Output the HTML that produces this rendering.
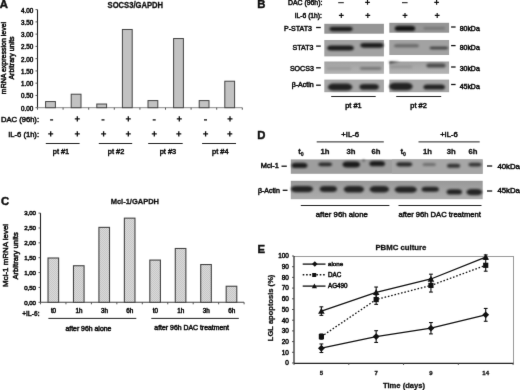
<!DOCTYPE html>
<html><head><meta charset="utf-8"><title>Figure</title>
<style>html,body{margin:0;padding:0;background:#fff;width:520px;height:390px;overflow:hidden;} svg text{font-family:"Liberation Sans", sans-serif;stroke:#111;stroke-width:0.5px;} svg text.b{stroke-width:0.3px;} svg text.s{stroke-width:0.5px;}</style>
</head><body>
<svg width="520" height="390" viewBox="0 0 520 390" style="display:block" font-family='"Liberation Sans", sans-serif' fill="#1a1a1a"><defs>
<filter id="blur1" x="-30%" y="-100%" width="160%" height="300%" color-interpolation-filters="sRGB"><feGaussianBlur stdDeviation="0.85"/></filter>
<pattern id="hatch" width="2" height="2" patternUnits="userSpaceOnUse"><rect width="2" height="2" fill="#dadada"/><rect width="1" height="1" fill="#c6c6c6"/><rect x="1" y="1" width="1" height="1" fill="#c6c6c6"/></pattern>
<linearGradient id="gD" x1="0" y1="0" x2="0" y2="1"><stop offset="0" stop-color="#989898"/><stop offset="1" stop-color="#adadad"/></linearGradient>
<linearGradient id="gS" x1="0" y1="0" x2="0" y2="1"><stop offset="0" stop-color="#a2a2a2"/><stop offset="1" stop-color="#b4b4b4"/></linearGradient>
<filter id="gblur" x="0" y="0" width="520" height="390" filterUnits="userSpaceOnUse" color-interpolation-filters="sRGB"><feConvolveMatrix order="3" kernelMatrix="0.0072 0.0847 0.0072 0.0847 1.0000 0.0847 0.0072 0.0847 0.0072" edgeMode="duplicate"/></filter></defs><g filter="url(#gblur)"><rect width="520" height="390" fill="#fff"/><text class="b" x="-0.30" y="8.10" font-size="11.3" font-weight="bold" text-anchor="start" fill="#111" style="stroke-width:0.45px">A</text>
<text class="b" x="135.35" y="8.20" font-size="8.2" font-weight="bold" text-anchor="middle" fill="#111"  textLength="55.6" lengthAdjust="spacingAndGlyphs">SOCS3/GAPDH</text>
<line x1="37.50" y1="9.60" x2="37.50" y2="107.70" stroke="#222" stroke-width="1.1" />
<line x1="35.50" y1="107.70" x2="37.50" y2="107.70" stroke="#444" stroke-width="0.9" />
<text class="s" x="33.30" y="110.70" font-size="6.3" font-weight="normal" text-anchor="end" fill="#111" >0.00</text>
<line x1="35.50" y1="95.44" x2="37.50" y2="95.44" stroke="#444" stroke-width="0.9" />
<text class="s" x="33.30" y="98.44" font-size="6.3" font-weight="normal" text-anchor="end" fill="#111" >0.50</text>
<line x1="35.50" y1="83.17" x2="37.50" y2="83.17" stroke="#444" stroke-width="0.9" />
<text class="s" x="33.30" y="86.17" font-size="6.3" font-weight="normal" text-anchor="end" fill="#111" >1.00</text>
<line x1="35.50" y1="70.91" x2="37.50" y2="70.91" stroke="#444" stroke-width="0.9" />
<text class="s" x="33.30" y="73.91" font-size="6.3" font-weight="normal" text-anchor="end" fill="#111" >1.50</text>
<line x1="35.50" y1="58.65" x2="37.50" y2="58.65" stroke="#444" stroke-width="0.9" />
<text class="s" x="33.30" y="61.65" font-size="6.3" font-weight="normal" text-anchor="end" fill="#111" >2.00</text>
<line x1="35.50" y1="46.39" x2="37.50" y2="46.39" stroke="#444" stroke-width="0.9" />
<text class="s" x="33.30" y="49.39" font-size="6.3" font-weight="normal" text-anchor="end" fill="#111" >2.50</text>
<line x1="35.50" y1="34.12" x2="37.50" y2="34.12" stroke="#444" stroke-width="0.9" />
<text class="s" x="33.30" y="37.12" font-size="6.3" font-weight="normal" text-anchor="end" fill="#111" >3.00</text>
<line x1="35.50" y1="21.86" x2="37.50" y2="21.86" stroke="#444" stroke-width="0.9" />
<text class="s" x="33.30" y="24.86" font-size="6.3" font-weight="normal" text-anchor="end" fill="#111" >3.50</text>
<line x1="35.50" y1="9.60" x2="37.50" y2="9.60" stroke="#444" stroke-width="0.9" />
<text class="s" x="33.30" y="12.60" font-size="6.3" font-weight="normal" text-anchor="end" fill="#111" >4.00</text>
<line x1="37.50" y1="107.70" x2="242.30" y2="107.70" stroke="#8a8a8a" stroke-width="1" />
<line x1="37.50" y1="107.70" x2="37.50" y2="109.70" stroke="#444" stroke-width="0.9" />
<line x1="63.10" y1="107.70" x2="63.10" y2="109.70" stroke="#444" stroke-width="0.9" />
<line x1="88.70" y1="107.70" x2="88.70" y2="109.70" stroke="#444" stroke-width="0.9" />
<line x1="114.30" y1="107.70" x2="114.30" y2="109.70" stroke="#444" stroke-width="0.9" />
<line x1="139.90" y1="107.70" x2="139.90" y2="109.70" stroke="#444" stroke-width="0.9" />
<line x1="165.50" y1="107.70" x2="165.50" y2="109.70" stroke="#444" stroke-width="0.9" />
<line x1="191.10" y1="107.70" x2="191.10" y2="109.70" stroke="#444" stroke-width="0.9" />
<line x1="216.70" y1="107.70" x2="216.70" y2="109.70" stroke="#444" stroke-width="0.9" />
<line x1="242.30" y1="107.70" x2="242.30" y2="109.70" stroke="#444" stroke-width="0.9" />
<rect x="45.60" y="101.57" width="9.80" height="6.13" fill="#c2c2c2" stroke="#444" stroke-width="1" />
<rect x="71.20" y="94.21" width="9.80" height="13.49" fill="#c2c2c2" stroke="#444" stroke-width="1" />
<rect x="96.80" y="104.02" width="9.80" height="3.68" fill="#c2c2c2" stroke="#444" stroke-width="1" />
<rect x="122.40" y="29.47" width="9.80" height="78.23" fill="#c2c2c2" stroke="#444" stroke-width="1" />
<rect x="148.00" y="100.59" width="9.80" height="7.11" fill="#c2c2c2" stroke="#444" stroke-width="1" />
<rect x="173.60" y="38.54" width="9.80" height="69.16" fill="#c2c2c2" stroke="#444" stroke-width="1" />
<rect x="199.20" y="100.59" width="9.80" height="7.11" fill="#c2c2c2" stroke="#444" stroke-width="1" />
<rect x="224.80" y="81.21" width="9.80" height="26.49" fill="#c2c2c2" stroke="#444" stroke-width="1" />
<text transform="translate(6.40,58.00) rotate(-90)" x="0" y="0" font-size="7.0" font-weight="normal" text-anchor="middle" fill="#111">mRNA expression level</text>
<text transform="translate(13.60,58.00) rotate(-90)" x="0" y="0" font-size="7.0" font-weight="normal" text-anchor="middle" fill="#111">Arbitrary units</text>
<text x="39.00" y="122.30" font-size="7.6" font-weight="normal" text-anchor="end" fill="#111" >DAC (96h):</text>
<text x="39.00" y="136.70" font-size="7.6" font-weight="normal" text-anchor="end" fill="#111" >IL-6 (1h):</text>
<rect x="50.10" y="119.25" width="3.00" height="1.30" fill="#111"/>
<path d="M74.80 118.25h5.00v1.30h-5.00zM76.65 116.30h1.30v5.20h-1.30z" fill="#111"/>
<rect x="101.50" y="119.25" width="3.00" height="1.30" fill="#111"/>
<path d="M125.80 118.25h5.00v1.30h-5.00zM127.65 116.30h1.30v5.20h-1.30z" fill="#111"/>
<rect x="152.70" y="119.25" width="3.00" height="1.30" fill="#111"/>
<path d="M176.80 118.25h5.00v1.30h-5.00zM178.65 116.30h1.30v5.20h-1.30z" fill="#111"/>
<rect x="204.00" y="119.25" width="3.00" height="1.30" fill="#111"/>
<path d="M227.50 118.25h5.00v1.30h-5.00zM229.35 116.30h1.30v5.20h-1.30z" fill="#111"/>
<path d="M48.20 133.25h5.00v1.30h-5.00zM50.05 131.30h1.30v5.20h-1.30z" fill="#111"/>
<path d="M74.80 133.25h5.00v1.30h-5.00zM76.65 131.30h1.30v5.20h-1.30z" fill="#111"/>
<path d="M101.10 133.25h5.00v1.30h-5.00zM102.95 131.30h1.30v5.20h-1.30z" fill="#111"/>
<path d="M125.80 133.25h5.00v1.30h-5.00zM127.65 131.30h1.30v5.20h-1.30z" fill="#111"/>
<path d="M151.80 133.25h5.00v1.30h-5.00zM153.65 131.30h1.30v5.20h-1.30z" fill="#111"/>
<path d="M176.30 133.25h5.00v1.30h-5.00zM178.15 131.30h1.30v5.20h-1.30z" fill="#111"/>
<path d="M203.10 133.25h5.00v1.30h-5.00zM204.95 131.30h1.30v5.20h-1.30z" fill="#111"/>
<path d="M227.30 133.25h5.00v1.30h-5.00zM229.15 131.30h1.30v5.20h-1.30z" fill="#111"/>
<line x1="45.80" y1="143.50" x2="79.60" y2="143.50" stroke="#222" stroke-width="1" />
<text x="61.00" y="153.60" font-size="7.4" font-weight="normal" text-anchor="middle" fill="#111" >pt #1</text>
<line x1="98.80" y1="143.50" x2="132.20" y2="143.50" stroke="#222" stroke-width="1" />
<text x="116.10" y="153.60" font-size="7.4" font-weight="normal" text-anchor="middle" fill="#111" >pt #2</text>
<line x1="148.20" y1="143.50" x2="182.70" y2="143.50" stroke="#222" stroke-width="1" />
<text x="167.90" y="153.60" font-size="7.4" font-weight="normal" text-anchor="middle" fill="#111" >pt #3</text>
<line x1="202.10" y1="143.50" x2="236.00" y2="143.50" stroke="#222" stroke-width="1" />
<text x="220.30" y="153.60" font-size="7.4" font-weight="normal" text-anchor="middle" fill="#111" >pt #4</text>
<text class="b" x="257.30" y="8.00" font-size="11.3" font-weight="bold" text-anchor="start" fill="#111" style="stroke-width:0.45px">B</text>
<text x="322.40" y="5.30" font-size="6.9" font-weight="normal" text-anchor="end" fill="#111" >DAC (96h):</text>
<text x="321.90" y="17.50" font-size="6.7" font-weight="normal" text-anchor="end" fill="#111" >IL-6 (1h):</text>
<rect x="338.20" y="2.20" width="5.60" height="1.00" fill="#111"/>
<rect x="402.00" y="2.20" width="5.60" height="1.00" fill="#111"/>
<path d="M365.15 1.82h4.70v1.15h-4.70zM366.93 0.00h1.15v4.80h-1.15z" fill="#111"/>
<path d="M434.25 1.82h4.70v1.15h-4.70zM436.03 0.00h1.15v4.80h-1.15z" fill="#111"/>
<path d="M338.90 14.83h4.80v1.15h-4.80zM340.73 12.90h1.15v5.00h-1.15z" fill="#111"/>
<path d="M365.40 14.83h4.80v1.15h-4.80zM367.23 12.90h1.15v5.00h-1.15z" fill="#111"/>
<path d="M402.60 14.83h4.80v1.15h-4.80zM404.43 12.90h1.15v5.00h-1.15z" fill="#111"/>
<path d="M434.80 14.83h4.80v1.15h-4.80zM436.62 12.90h1.15v5.00h-1.15z" fill="#111"/>
<rect x="324.30" y="23.80" width="59.60" height="9.90" fill="#959595" stroke="none" stroke-width="0" />
<rect x="389.30" y="22.80" width="59.80" height="9.90" fill="#959595" stroke="none" stroke-width="0" />
<text x="312.00" y="30.90" font-size="7.05" font-weight="normal" text-anchor="end" fill="#111" >P-STAT3</text>
<line x1="316.10" y1="27.50" x2="320.80" y2="27.50" stroke="#111" stroke-width="1.3" />
<line x1="451.10" y1="27.00" x2="455.60" y2="27.00" stroke="#111" stroke-width="1.3" />
<text x="459.70" y="31.00" font-size="6.95" font-weight="normal" text-anchor="start" fill="#111" >80kDa</text>
<rect x="324.30" y="40.00" width="59.60" height="16.40" fill="#a2a2a2" stroke="none" stroke-width="0" />
<rect x="389.30" y="40.00" width="59.80" height="15.00" fill="#a2a2a2" stroke="none" stroke-width="0" />
<text x="313.50" y="49.50" font-size="7.05" font-weight="normal" text-anchor="end" fill="#111" >STAT3</text>
<line x1="316.10" y1="46.10" x2="320.80" y2="46.10" stroke="#111" stroke-width="1.3" />
<line x1="451.10" y1="45.60" x2="455.60" y2="45.60" stroke="#111" stroke-width="1.3" />
<text x="459.70" y="49.60" font-size="6.95" font-weight="normal" text-anchor="start" fill="#111" >80kDa</text>
<rect x="324.30" y="61.50" width="59.60" height="12.30" fill="url(#gS)" stroke="none" stroke-width="0" />
<rect x="389.30" y="61.50" width="59.80" height="12.30" fill="url(#gS)" stroke="none" stroke-width="0" />
<text x="313.80" y="70.70" font-size="7.05" font-weight="normal" text-anchor="end" fill="#111" >SOCS3</text>
<line x1="316.10" y1="67.80" x2="320.80" y2="67.80" stroke="#111" stroke-width="1.3" />
<line x1="451.10" y1="67.00" x2="455.60" y2="67.00" stroke="#111" stroke-width="1.3" />
<text x="459.70" y="71.00" font-size="6.95" font-weight="normal" text-anchor="start" fill="#111" >30kDa</text>
<rect x="324.30" y="79.60" width="59.60" height="12.60" fill="#a6a6a6" stroke="none" stroke-width="0" />
<rect x="389.30" y="79.60" width="59.80" height="12.60" fill="#a6a6a6" stroke="none" stroke-width="0" />
<text x="313.80" y="87.00" font-size="7.05" font-weight="normal" text-anchor="end" fill="#111" >β-Actin</text>
<line x1="316.10" y1="85.20" x2="320.80" y2="85.20" stroke="#111" stroke-width="1.3" />
<line x1="451.10" y1="84.50" x2="455.60" y2="84.50" stroke="#111" stroke-width="1.3" />
<text x="459.70" y="88.50" font-size="6.95" font-weight="normal" text-anchor="start" fill="#111" >45kDa</text>
<g filter="url(#blur1)">
<rect x="329.50" y="26.85" width="23.10" height="4.30" rx="3.44" ry="2.15" fill="#1c1c1c"/>
<rect x="394.80" y="25.80" width="20.40" height="5.20" rx="4.16" ry="2.60" fill="#151515"/>
<rect x="423.50" y="27.00" width="21.50" height="2.40" rx="1.92" ry="1.20" fill="#747474"/>
<rect x="327.20" y="45.40" width="26.60" height="5.00" rx="4.00" ry="2.50" fill="#1c1c1c"/>
<rect x="360.40" y="42.90" width="23.20" height="4.80" rx="3.84" ry="2.40" fill="#1c1c1c"/>
<rect x="394.00" y="44.20" width="25.00" height="3.00" rx="2.40" ry="1.50" fill="#666666"/>
<rect x="429.60" y="46.70" width="18.40" height="2.60" rx="2.08" ry="1.30" fill="#3a3a3a"/>
<rect x="326.50" y="67.30" width="24.90" height="2.40" rx="1.92" ry="1.20" fill="#989898"/>
<rect x="359.90" y="67.10" width="21.50" height="2.60" rx="2.08" ry="1.30" fill="#747474"/>
<rect x="390.00" y="65.30" width="22.60" height="3.00" rx="2.40" ry="1.50" fill="#969696"/>
<rect x="426.40" y="63.50" width="19.20" height="4.00" rx="3.20" ry="2.00" fill="#4a4a4a"/>
<polygon points="389.3,61.4 400,61.4 389.3,63.6" fill="#2a2a2a"/>
<rect x="327.80" y="83.60" width="24.60" height="7.00" rx="5.60" ry="3.50" fill="#222222"/>
<rect x="359.50" y="84.10" width="19.30" height="5.60" rx="4.48" ry="2.80" fill="#222222"/>
<rect x="389.20" y="82.70" width="23.40" height="7.60" rx="6.08" ry="3.80" fill="#222222"/>
<rect x="423.40" y="84.40" width="21.60" height="5.20" rx="4.16" ry="2.60" fill="#222222"/>
</g>
<line x1="331.20" y1="96.50" x2="375.70" y2="96.50" stroke="#222" stroke-width="1" />
<line x1="396.20" y1="96.50" x2="441.20" y2="96.50" stroke="#222" stroke-width="1" />
<text x="353.40" y="107.80" font-size="7.4" font-weight="normal" text-anchor="middle" fill="#111" >pt #1</text>
<text x="418.60" y="107.80" font-size="7.4" font-weight="normal" text-anchor="middle" fill="#111" >pt #2</text>
<text class="b" x="0.90" y="205.40" font-size="11.3" font-weight="bold" text-anchor="start" fill="#111" style="stroke-width:0.45px">C</text>
<text class="b" x="134.85" y="204.00" font-size="8.1" font-weight="bold" text-anchor="middle" fill="#111"  textLength="48.4" lengthAdjust="spacingAndGlyphs">Mcl-1/GAPDH</text>
<line x1="40.50" y1="213.10" x2="40.50" y2="302.30" stroke="#222" stroke-width="1.1" />
<line x1="38.50" y1="302.30" x2="40.50" y2="302.30" stroke="#444" stroke-width="0.9" />
<text class="s" x="36.00" y="304.50" font-size="6.1" font-weight="normal" text-anchor="end" fill="#111" >0,00</text>
<line x1="38.50" y1="287.43" x2="40.50" y2="287.43" stroke="#444" stroke-width="0.9" />
<text class="s" x="36.00" y="289.63" font-size="6.1" font-weight="normal" text-anchor="end" fill="#111" >0,50</text>
<line x1="38.50" y1="272.57" x2="40.50" y2="272.57" stroke="#444" stroke-width="0.9" />
<text class="s" x="36.00" y="274.77" font-size="6.1" font-weight="normal" text-anchor="end" fill="#111" >1,00</text>
<line x1="38.50" y1="257.70" x2="40.50" y2="257.70" stroke="#444" stroke-width="0.9" />
<text class="s" x="36.00" y="259.90" font-size="6.1" font-weight="normal" text-anchor="end" fill="#111" >1,50</text>
<line x1="38.50" y1="242.83" x2="40.50" y2="242.83" stroke="#444" stroke-width="0.9" />
<text class="s" x="36.00" y="245.03" font-size="6.1" font-weight="normal" text-anchor="end" fill="#111" >2,00</text>
<line x1="38.50" y1="227.97" x2="40.50" y2="227.97" stroke="#444" stroke-width="0.9" />
<text class="s" x="36.00" y="230.17" font-size="6.1" font-weight="normal" text-anchor="end" fill="#111" >2,50</text>
<line x1="38.50" y1="213.10" x2="40.50" y2="213.10" stroke="#444" stroke-width="0.9" />
<text class="s" x="36.00" y="215.30" font-size="6.1" font-weight="normal" text-anchor="end" fill="#111" >3,00</text>
<line x1="40.50" y1="302.30" x2="244.10" y2="302.30" stroke="#444" stroke-width="1.1" />
<line x1="40.50" y1="302.30" x2="40.50" y2="304.30" stroke="#444" stroke-width="0.9" />
<line x1="65.95" y1="302.30" x2="65.95" y2="304.30" stroke="#444" stroke-width="0.9" />
<line x1="91.40" y1="302.30" x2="91.40" y2="304.30" stroke="#444" stroke-width="0.9" />
<line x1="116.85" y1="302.30" x2="116.85" y2="304.30" stroke="#444" stroke-width="0.9" />
<line x1="142.30" y1="302.30" x2="142.30" y2="304.30" stroke="#444" stroke-width="0.9" />
<line x1="167.75" y1="302.30" x2="167.75" y2="304.30" stroke="#444" stroke-width="0.9" />
<line x1="193.20" y1="302.30" x2="193.20" y2="304.30" stroke="#444" stroke-width="0.9" />
<line x1="218.65" y1="302.30" x2="218.65" y2="304.30" stroke="#444" stroke-width="0.9" />
<line x1="244.10" y1="302.30" x2="244.10" y2="304.30" stroke="#444" stroke-width="0.9" />
<rect x="48.02" y="258.00" width="10.60" height="44.30" fill="url(#hatch)" stroke="#444" stroke-width="1.1" />
<rect x="73.47" y="265.73" width="10.60" height="36.57" fill="url(#hatch)" stroke="#444" stroke-width="1.1" />
<rect x="98.92" y="227.37" width="10.60" height="74.93" fill="url(#hatch)" stroke="#444" stroke-width="1.1" />
<rect x="124.37" y="218.15" width="10.60" height="84.15" fill="url(#hatch)" stroke="#444" stroke-width="1.1" />
<rect x="149.82" y="260.08" width="10.60" height="42.22" fill="url(#hatch)" stroke="#444" stroke-width="1.1" />
<rect x="175.28" y="248.48" width="10.60" height="53.82" fill="url(#hatch)" stroke="#444" stroke-width="1.1" />
<rect x="200.72" y="264.54" width="10.60" height="37.76" fill="url(#hatch)" stroke="#444" stroke-width="1.1" />
<rect x="226.18" y="286.24" width="10.60" height="16.06" fill="url(#hatch)" stroke="#444" stroke-width="1.1" />
<text transform="translate(8.00,255.40) rotate(-90)" x="0" y="0" font-size="7.95" font-weight="normal" text-anchor="middle" fill="#111">Mcl-1 mRNA level</text>
<text transform="translate(18.00,255.90) rotate(-90)" x="0" y="0" font-size="7.7" font-weight="normal" text-anchor="middle" fill="#111">Arbitrary units</text>
<text class="b" x="39.80" y="315.50" font-size="6.5" font-weight="bold" text-anchor="end" fill="#111" >+IL-6:</text>
<text class="s" x="53.52" y="313.40" font-size="6.3" font-weight="normal" text-anchor="middle" fill="#111" >t0</text>
<text class="s" x="78.97" y="313.40" font-size="6.3" font-weight="normal" text-anchor="middle" fill="#111" >1h</text>
<text class="s" x="104.42" y="313.40" font-size="6.3" font-weight="normal" text-anchor="middle" fill="#111" >3h</text>
<text class="s" x="129.88" y="313.40" font-size="6.3" font-weight="normal" text-anchor="middle" fill="#111" >6h</text>
<text class="s" x="155.32" y="313.40" font-size="6.3" font-weight="normal" text-anchor="middle" fill="#111" >t0</text>
<text class="s" x="180.78" y="313.40" font-size="6.3" font-weight="normal" text-anchor="middle" fill="#111" >1h</text>
<text class="s" x="206.22" y="313.40" font-size="6.3" font-weight="normal" text-anchor="middle" fill="#111" >3h</text>
<text class="s" x="231.68" y="313.40" font-size="6.3" font-weight="normal" text-anchor="middle" fill="#111" >6h</text>
<line x1="48.40" y1="318.40" x2="136.30" y2="318.40" stroke="#222" stroke-width="1" />
<line x1="151.30" y1="318.40" x2="238.80" y2="318.40" stroke="#222" stroke-width="1" />
<text x="88.40" y="330.80" font-size="6.9" font-weight="normal" text-anchor="middle" fill="#111" >after 96h alone</text>
<text x="191.70" y="330.40" font-size="6.9" font-weight="normal" text-anchor="middle" fill="#111" >after 96h DAC treatment</text>
<text class="b" x="257.20" y="139.20" font-size="11.3" font-weight="bold" text-anchor="start" fill="#111" style="stroke-width:0.45px">D</text>
<text x="350.20" y="137.00" font-size="7.7" font-weight="normal" text-anchor="middle" fill="#111" >+IL-6</text>
<text x="449.00" y="137.00" font-size="7.7" font-weight="normal" text-anchor="middle" fill="#111" >+IL-6</text>
<line x1="316.70" y1="141.90" x2="383.80" y2="141.90" stroke="#222" stroke-width="1" />
<line x1="418.50" y1="141.90" x2="479.70" y2="141.90" stroke="#222" stroke-width="1" />
<text class="b" x="298.30" y="153.60" font-size="7.7" font-weight="bold" text-anchor="start" fill="#111" >t</text>
<text class="b" x="300.80" y="155.80" font-size="5.2" font-weight="bold" text-anchor="start" fill="#111" >0</text>
<text class="b" x="400.50" y="153.60" font-size="7.7" font-weight="bold" text-anchor="start" fill="#111" >t</text>
<text class="b" x="403.00" y="155.80" font-size="5.2" font-weight="bold" text-anchor="start" fill="#111" >0</text>
<text class="b" x="324.90" y="154.00" font-size="7.7" font-weight="bold" text-anchor="middle" fill="#111" >1h</text>
<text class="b" x="350.90" y="154.00" font-size="7.7" font-weight="bold" text-anchor="middle" fill="#111" >3h</text>
<text class="b" x="376.00" y="154.00" font-size="7.7" font-weight="bold" text-anchor="middle" fill="#111" >6h</text>
<text class="b" x="427.40" y="154.00" font-size="7.7" font-weight="bold" text-anchor="middle" fill="#111" >1h</text>
<text class="b" x="451.30" y="154.00" font-size="7.7" font-weight="bold" text-anchor="middle" fill="#111" >3h</text>
<text class="b" x="472.90" y="154.00" font-size="7.7" font-weight="bold" text-anchor="middle" fill="#111" >6h</text>
<rect x="290.80" y="159.40" width="191.80" height="14.40" fill="#9e9e9e" stroke="none" stroke-width="0" />
<rect x="392.00" y="159.40" width="90.60" height="14.40" fill="#a6a6a6" stroke="none" stroke-width="0" />
<rect x="290.80" y="180.80" width="191.90" height="18.40" fill="url(#gD)" stroke="none" stroke-width="0" />
<g filter="url(#blur1)">
<rect x="291.60" y="162.70" width="15.80" height="5.40" rx="4.32" ry="2.70" fill="#1e1e1e"/>
<rect x="318.40" y="162.40" width="13.60" height="3.80" rx="3.04" ry="1.90" fill="#2a2a2a"/>
<rect x="342.60" y="161.60" width="17.40" height="6.00" rx="4.80" ry="3.00" fill="#1a1a1a"/>
<rect x="369.40" y="161.10" width="15.60" height="5.20" rx="4.16" ry="2.60" fill="#1c1c1c"/>
<rect x="396.40" y="162.20" width="15.80" height="4.20" rx="3.36" ry="2.10" fill="#2a2a2a"/>
<rect x="422.50" y="163.00" width="13.50" height="3.00" rx="2.40" ry="1.50" fill="#6e6e6e"/>
<rect x="447.00" y="163.70" width="13.20" height="4.00" rx="3.20" ry="2.00" fill="#333333"/>
<rect x="468.50" y="162.70" width="12.90" height="3.80" rx="3.04" ry="1.90" fill="#333333"/>
<ellipse cx="363.60" cy="160.40" rx="0.90" ry="0.90" fill="#222" />
<rect x="290.90" y="185.90" width="22.10" height="6.40" rx="5.12" ry="3.20" fill="#242424"/>
<rect x="319.70" y="185.90" width="17.30" height="6.00" rx="4.80" ry="3.00" fill="#242424"/>
<rect x="343.80" y="186.00" width="20.20" height="6.60" rx="5.28" ry="3.30" fill="#242424"/>
<rect x="369.70" y="186.10" width="19.30" height="6.40" rx="5.12" ry="3.20" fill="#242424"/>
<rect x="394.70" y="186.50" width="22.10" height="6.20" rx="4.96" ry="3.10" fill="#242424"/>
<rect x="421.60" y="186.80" width="17.30" height="5.00" rx="4.00" ry="2.50" fill="#242424"/>
<rect x="446.60" y="189.20" width="15.40" height="5.40" rx="4.32" ry="2.70" fill="#242424"/>
<rect x="466.40" y="189.00" width="15.80" height="6.20" rx="4.96" ry="3.10" fill="#242424"/>
</g>
<text x="278.80" y="168.40" font-size="7.4" font-weight="normal" text-anchor="end" fill="#111" >Mcl-1</text>
<line x1="281.50" y1="166.20" x2="286.80" y2="166.20" stroke="#111" stroke-width="1.3" />
<text x="279.80" y="192.90" font-size="7.0" font-weight="normal" text-anchor="end" fill="#111" >β-Actin</text>
<line x1="282.70" y1="190.30" x2="287.50" y2="190.30" stroke="#111" stroke-width="1.3" />
<line x1="487.00" y1="166.00" x2="492.20" y2="166.00" stroke="#111" stroke-width="1.3" />
<text x="497.40" y="168.80" font-size="7.8" font-weight="normal" text-anchor="start" fill="#111" >40kDa</text>
<line x1="487.00" y1="191.00" x2="492.20" y2="191.00" stroke="#111" stroke-width="1.3" />
<text x="497.40" y="193.40" font-size="7.8" font-weight="normal" text-anchor="start" fill="#111" >45kDa</text>
<line x1="300.80" y1="205.50" x2="389.40" y2="205.50" stroke="#222" stroke-width="1" />
<line x1="398.50" y1="205.50" x2="481.50" y2="205.50" stroke="#222" stroke-width="1" />
<text x="341.80" y="217.00" font-size="7.8" font-weight="normal" text-anchor="middle" fill="#111" >after 96h alone</text>
<text x="439.70" y="217.40" font-size="7.6" font-weight="normal" text-anchor="middle" fill="#111" >after 96h DAC treatment</text>
<text class="b" x="257.40" y="252.80" font-size="11.3" font-weight="bold" text-anchor="start" fill="#111" style="stroke-width:0.45px">E</text>
<text class="b" x="400.90" y="250.40" font-size="8.0" font-weight="bold" text-anchor="middle" fill="#111"  textLength="50.9" lengthAdjust="spacingAndGlyphs">PBMC culture</text>
<line x1="294.00" y1="256.50" x2="513.50" y2="256.50" stroke="#999" stroke-width="1" />
<line x1="513.50" y1="256.00" x2="513.50" y2="363.00" stroke="#999" stroke-width="1" />
<line x1="294.00" y1="256.00" x2="294.00" y2="363.00" stroke="#222" stroke-width="1.2" />
<line x1="294.00" y1="363.30" x2="513.50" y2="363.30" stroke="#222" stroke-width="1.2" />
<line x1="292.00" y1="363.00" x2="294.00" y2="363.00" stroke="#444" stroke-width="0.9" />
<text class="s" x="288.80" y="365.30" font-size="6.4" font-weight="normal" text-anchor="end" fill="#111" >0</text>
<line x1="292.00" y1="352.30" x2="294.00" y2="352.30" stroke="#444" stroke-width="0.9" />
<text class="s" x="288.80" y="354.60" font-size="6.4" font-weight="normal" text-anchor="end" fill="#111" >10</text>
<line x1="292.00" y1="341.60" x2="294.00" y2="341.60" stroke="#444" stroke-width="0.9" />
<text class="s" x="288.80" y="343.90" font-size="6.4" font-weight="normal" text-anchor="end" fill="#111" >20</text>
<line x1="292.00" y1="330.90" x2="294.00" y2="330.90" stroke="#444" stroke-width="0.9" />
<text class="s" x="288.80" y="333.20" font-size="6.4" font-weight="normal" text-anchor="end" fill="#111" >30</text>
<line x1="292.00" y1="320.20" x2="294.00" y2="320.20" stroke="#444" stroke-width="0.9" />
<text class="s" x="288.80" y="322.50" font-size="6.4" font-weight="normal" text-anchor="end" fill="#111" >40</text>
<line x1="292.00" y1="309.50" x2="294.00" y2="309.50" stroke="#444" stroke-width="0.9" />
<text class="s" x="288.80" y="311.80" font-size="6.4" font-weight="normal" text-anchor="end" fill="#111" >50</text>
<line x1="292.00" y1="298.80" x2="294.00" y2="298.80" stroke="#444" stroke-width="0.9" />
<text class="s" x="288.80" y="301.10" font-size="6.4" font-weight="normal" text-anchor="end" fill="#111" >60</text>
<line x1="292.00" y1="288.10" x2="294.00" y2="288.10" stroke="#444" stroke-width="0.9" />
<text class="s" x="288.80" y="290.40" font-size="6.4" font-weight="normal" text-anchor="end" fill="#111" >70</text>
<line x1="292.00" y1="277.40" x2="294.00" y2="277.40" stroke="#444" stroke-width="0.9" />
<text class="s" x="288.80" y="279.70" font-size="6.4" font-weight="normal" text-anchor="end" fill="#111" >80</text>
<line x1="292.00" y1="266.70" x2="294.00" y2="266.70" stroke="#444" stroke-width="0.9" />
<text class="s" x="288.80" y="269.00" font-size="6.4" font-weight="normal" text-anchor="end" fill="#111" >90</text>
<line x1="292.00" y1="256.00" x2="294.00" y2="256.00" stroke="#444" stroke-width="0.9" />
<text class="s" x="288.80" y="258.30" font-size="6.4" font-weight="normal" text-anchor="end" fill="#111" >100</text>
<line x1="294.00" y1="363.00" x2="294.00" y2="365.00" stroke="#444" stroke-width="0.9" />
<line x1="348.77" y1="363.00" x2="348.77" y2="365.00" stroke="#444" stroke-width="0.9" />
<line x1="403.55" y1="363.00" x2="403.55" y2="365.00" stroke="#444" stroke-width="0.9" />
<line x1="458.33" y1="363.00" x2="458.33" y2="365.00" stroke="#444" stroke-width="0.9" />
<line x1="513.10" y1="363.00" x2="513.10" y2="365.00" stroke="#444" stroke-width="0.9" />
<text class="b" x="321.39" y="374.80" font-size="6.0" font-weight="bold" text-anchor="middle" fill="#111" >5</text>
<text class="b" x="376.16" y="374.80" font-size="6.0" font-weight="bold" text-anchor="middle" fill="#111" >7</text>
<text class="b" x="430.94" y="374.80" font-size="6.0" font-weight="bold" text-anchor="middle" fill="#111" >9</text>
<text class="b" x="485.71" y="374.80" font-size="6.0" font-weight="bold" text-anchor="middle" fill="#111" >14</text>
<text class="b" x="404.00" y="388.20" font-size="7.58" font-weight="bold" text-anchor="middle" fill="#111" >Time (days)</text>
<text class="b" transform="translate(272.60,307.90) rotate(-90)" x="0" y="0" font-size="7.55" font-weight="bold" text-anchor="middle" fill="#111">LGL apoptosis (%)</text>
<polyline points="321.39,348.23 376.16,336.57 430.94,328.23 485.71,314.85" fill="none" stroke="#111" stroke-width="1.3" />
<polyline points="321.39,336.57 376.16,299.55 430.94,285.43 485.71,265.31" fill="none" stroke="#111" stroke-width="1.3" stroke-dasharray="1.6,1.8"/>
<polyline points="321.39,311.11 376.16,292.38 430.94,279.00 485.71,257.07" fill="none" stroke="#111" stroke-width="1.3" />
<line x1="321.39" y1="343.95" x2="321.39" y2="352.51" stroke="#111" stroke-width="1.1" />
<line x1="319.49" y1="343.95" x2="323.29" y2="343.95" stroke="#111" stroke-width="1.1" />
<line x1="319.49" y1="352.51" x2="323.29" y2="352.51" stroke="#111" stroke-width="1.1" />
<line x1="376.16" y1="330.69" x2="376.16" y2="342.46" stroke="#111" stroke-width="1.1" />
<line x1="374.26" y1="330.69" x2="378.06" y2="330.69" stroke="#111" stroke-width="1.1" />
<line x1="374.26" y1="342.46" x2="378.06" y2="342.46" stroke="#111" stroke-width="1.1" />
<line x1="430.94" y1="322.55" x2="430.94" y2="333.90" stroke="#111" stroke-width="1.1" />
<line x1="429.04" y1="322.55" x2="432.84" y2="322.55" stroke="#111" stroke-width="1.1" />
<line x1="429.04" y1="333.90" x2="432.84" y2="333.90" stroke="#111" stroke-width="1.1" />
<line x1="485.71" y1="308.43" x2="485.71" y2="321.27" stroke="#111" stroke-width="1.1" />
<line x1="483.81" y1="308.43" x2="487.61" y2="308.43" stroke="#111" stroke-width="1.1" />
<line x1="483.81" y1="321.27" x2="487.61" y2="321.27" stroke="#111" stroke-width="1.1" />
<line x1="321.39" y1="334.00" x2="321.39" y2="339.14" stroke="#111" stroke-width="1.1" />
<line x1="319.49" y1="334.00" x2="323.29" y2="334.00" stroke="#111" stroke-width="1.1" />
<line x1="319.49" y1="339.14" x2="323.29" y2="339.14" stroke="#111" stroke-width="1.1" />
<line x1="376.16" y1="294.73" x2="376.16" y2="304.36" stroke="#111" stroke-width="1.1" />
<line x1="374.26" y1="294.73" x2="378.06" y2="294.73" stroke="#111" stroke-width="1.1" />
<line x1="374.26" y1="304.36" x2="378.06" y2="304.36" stroke="#111" stroke-width="1.1" />
<line x1="430.94" y1="278.79" x2="430.94" y2="292.06" stroke="#111" stroke-width="1.1" />
<line x1="429.04" y1="278.79" x2="432.84" y2="278.79" stroke="#111" stroke-width="1.1" />
<line x1="429.04" y1="292.06" x2="432.84" y2="292.06" stroke="#111" stroke-width="1.1" />
<line x1="485.71" y1="259.42" x2="485.71" y2="271.19" stroke="#111" stroke-width="1.1" />
<line x1="483.81" y1="259.42" x2="487.61" y2="259.42" stroke="#111" stroke-width="1.1" />
<line x1="483.81" y1="271.19" x2="487.61" y2="271.19" stroke="#111" stroke-width="1.1" />
<line x1="321.39" y1="306.82" x2="321.39" y2="315.38" stroke="#111" stroke-width="1.1" />
<line x1="319.49" y1="306.82" x2="323.29" y2="306.82" stroke="#111" stroke-width="1.1" />
<line x1="319.49" y1="315.38" x2="323.29" y2="315.38" stroke="#111" stroke-width="1.1" />
<line x1="376.16" y1="287.03" x2="376.16" y2="297.73" stroke="#111" stroke-width="1.1" />
<line x1="374.26" y1="287.03" x2="378.06" y2="287.03" stroke="#111" stroke-width="1.1" />
<line x1="374.26" y1="297.73" x2="378.06" y2="297.73" stroke="#111" stroke-width="1.1" />
<line x1="430.94" y1="274.19" x2="430.94" y2="283.82" stroke="#111" stroke-width="1.1" />
<line x1="429.04" y1="274.19" x2="432.84" y2="274.19" stroke="#111" stroke-width="1.1" />
<line x1="429.04" y1="283.82" x2="432.84" y2="283.82" stroke="#111" stroke-width="1.1" />
<line x1="485.71" y1="254.93" x2="485.71" y2="259.21" stroke="#111" stroke-width="1.1" />
<line x1="483.81" y1="254.93" x2="487.61" y2="254.93" stroke="#111" stroke-width="1.1" />
<line x1="483.81" y1="259.21" x2="487.61" y2="259.21" stroke="#111" stroke-width="1.1" />
<polygon points="321.39,344.83 324.79,348.23 321.39,351.63 317.99,348.23" fill="#111"/>
<polygon points="376.16,333.17 379.56,336.57 376.16,339.97 372.76,336.57" fill="#111"/>
<polygon points="430.94,324.83 434.34,328.23 430.94,331.62 427.54,328.23" fill="#111"/>
<polygon points="485.71,311.45 489.11,314.85 485.71,318.25 482.31,314.85" fill="#111"/>
<rect x="318.79" y="333.97" width="5.20" height="5.20" fill="#111"/>
<rect x="373.56" y="296.95" width="5.20" height="5.20" fill="#111"/>
<rect x="428.34" y="282.82" width="5.20" height="5.20" fill="#111"/>
<rect x="483.11" y="262.71" width="5.20" height="5.20" fill="#111"/>
<polygon points="321.39,307.81 324.69,313.75 318.09,313.75" fill="#111"/>
<polygon points="376.16,289.08 379.46,295.02 372.86,295.02" fill="#111"/>
<polygon points="430.94,275.70 434.24,281.64 427.64,281.64" fill="#111"/>
<polygon points="485.71,253.77 489.01,259.71 482.41,259.71" fill="#111"/>
<line x1="302.70" y1="264.10" x2="325.50" y2="264.10" stroke="#111" stroke-width="1.3" />
<polygon points="314.80,261.20 317.60,264.00 314.80,266.80 312.00,264.00" fill="#111"/>
<line x1="302.70" y1="274.70" x2="325.50" y2="274.70" stroke="#111" stroke-width="1.4" stroke-dasharray="1.6,1.8"/>
<rect x="312.20" y="273.00" width="4.00" height="4.00" fill="#111"/>
<line x1="302.70" y1="286.10" x2="325.50" y2="286.10" stroke="#111" stroke-width="1.3" />
<polygon points="314.40,283.60 317.00,288.28 311.80,288.28" fill="#111"/>
<text class="s" x="328.00" y="266.20" font-size="6.2" font-weight="normal" text-anchor="start" fill="#111" >alone</text>
<text class="s" x="328.00" y="277.20" font-size="6.3" font-weight="normal" text-anchor="start" fill="#111" >DAC</text>
<text class="s" x="328.00" y="288.40" font-size="6.3" font-weight="normal" text-anchor="start" fill="#111" >AG490</text></g></svg>
</body></html>
